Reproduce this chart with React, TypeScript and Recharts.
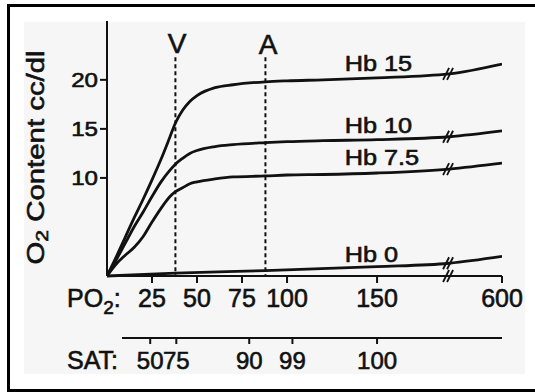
import React from "react";
import { LineChart, Line, XAxis, YAxis, ReferenceLine, ReferenceDot } from "recharts";

const po2 = [0, 5, 10, 15, 20, 25, 30, 35, 38, 42, 46, 50, 60, 70, 88, 100, 120, 150, 190, 600];
// O2 content (cc/dl)
const hb15 = [0, 1.9, 3.9, 5.9, 7.8, 9.8, 11.9, 14.2, 15.6, 16.9, 17.8, 18.4, 19.2, 19.5, 19.8, 19.9, 20.0, 20.2, 20.6, 21.6];
const hb10 = [0, 1.6, 3.3, 5.0, 6.5, 8.1, 9.6, 10.8, 11.4, 12.0, 12.5, 12.8, 13.2, 13.4, 13.6, 13.7, 13.8, 13.9, 14.2, 14.8];
const hb75 = [0, 1.2, 2.1, 2.9, 4.0, 5.5, 6.9, 8.1, 8.6, 9.0, 9.4, 9.6, 9.9, 10.1, 10.2, 10.3, 10.35, 10.5, 10.9, 11.5];
const hb0Po2 = [0, 38, 88, 150, 190, 600];
const hb0 = [0, 0.3, 0.55, 0.95, 1.3, 2.0];

const po2Ticks = [25, 50, 75, 100, 150, 600];
const satLabels = ["50", "75", "90", "99", "100"];
const satAtPo2 = [24, 38.5, 79, 103, 150];
const yTicks = [10, 15, 20];

const venous = 38;
const arterial = 88;
const breakAt = 190; // axis is broken between here and 600

const ink = "#111";
const font = "'Liberation Sans', Arial, sans-serif";
const heavy = { stroke: ink, strokeWidth: 0.6 };

// squeeze everything after the break into a short stretch
const pos = (p: number) => (p <= breakAt ? p : breakAt + ((p - breakAt) * 29.4) / 410);
const maxPos = pos(600);

const toData = (xs: number[], ys: number[]) => xs.map((p, i) => ({ x: pos(p), y: ys[i] }));
const atBreak = (ys: number[]) => ys[po2.indexOf(breakAt)];

const series = [
  { name: "Hb 15", data: toData(po2, hb15), brk: atBreak(hb15), labelY: 20.9 },
  { name: "Hb 10", data: toData(po2, hb10), brk: atBreak(hb10), labelY: 14.6 },
  { name: "Hb 7.5", data: toData(po2, hb75), brk: atBreak(hb75), labelY: 11.3 },
  { name: "Hb 0", data: toData(hb0Po2, hb0), brk: hb0[hb0Po2.indexOf(breakAt)], labelY: 1.43 },
];

const BreakMark = (props: any) => {
  const { cx, cy } = props;
  return (
    <g stroke={ink} strokeWidth={1.8}>
      <line x1={cx - 6} y1={cy + 6} x2={cx} y2={cy - 6} />
      <line x1={cx - 2} y1={cy + 6} x2={cx + 4} y2={cy - 6} />
    </g>
  );
};

const textShape = (txt: string, size: number, sx: number, anchor: string) => (props: any) => (
  <text
    transform={`translate(${props.cx},${props.cy}) scale(${sx},1)`}
    textAnchor={anchor}
    fontSize={size}
    fontFamily={font}
    fill={ink}
    {...heavy}
  >
    {txt}
  </text>
);

const PoTick = (props: any) => {
  const { x, y, payload } = props;
  const i = po2Ticks.map(pos).findIndex((v) => Math.abs(v - payload.value) < 0.01);
  return (
    <text x={x} y={y + 22} textAnchor="middle" fontSize={25} fontFamily={font} fill={ink} {...heavy}>
      {po2Ticks[i]}
    </text>
  );
};

const SatTick = (props: any) => {
  const { x, y, payload } = props;
  const i = satAtPo2.indexOf(payload.value);
  return (
    <text x={x} y={y + 23} textAnchor="middle" fontSize={24} fontFamily={font} fill={ink} {...heavy}>
      {satLabels[i]}
    </text>
  );
};

const YTick = (props: any) => {
  const { x, y, payload } = props;
  return (
    <text
      transform={`translate(${x},${y + 7.5}) scale(1.15,1)`}
      textAnchor="end"
      fontSize={21}
      fontFamily={font}
      fill={ink}
      {...heavy}
    >
      {payload.value}
    </text>
  );
};

export default function App() {
  return (
    <div style={{ position: "absolute", left: 0, top: 0, width: 535, height: 392, overflow: "hidden", background: "#fff" }}>
      <div
        style={{
          position: "absolute",
          left: 7,
          top: 4,
          width: 600,
          height: 388,
          border: "3px solid #000",
          boxSizing: "border-box",
        }}
      />
      <div style={{ position: "absolute", left: 24, top: 22, width: 501, height: 352, background: "#f6f6f6" }} />
      <div style={{ position: "absolute", left: 0, top: 0 }}>
        <LineChart width={535} height={392} margin={{ top: 21, right: 33, bottom: 14, left: 0 }}>
          <XAxis
            xAxisId="po2"
            type="number"
            dataKey="x"
            domain={[0, maxPos]}
            allowDataOverflow
            ticks={po2Ticks.map(pos)}
            interval={0}
            tick={<PoTick />}
            tickSize={7}
            height={62}
            axisLine={{ stroke: ink, strokeWidth: 2 }}
            tickLine={{ stroke: ink, strokeWidth: 2 }}
            label={{
              content: (p: any) => (
                <text x={p.viewBox.x - 40} y={p.viewBox.y + 31} fontSize={25} fontFamily={font} fill={ink} {...heavy}>
                  PO
                  <tspan fontSize={19} dy={7}>2</tspan>
                  <tspan dy={-7}>:</tspan>
                </text>
              ),
            }}
          />
          <XAxis
            xAxisId="sat"
            type="number"
            dataKey="x"
            domain={[maxPos - 380 / (395 / maxPos), maxPos]}
            allowDataOverflow
            padding={{ left: 15, right: 0 }}
            ticks={satAtPo2}
            interval={0}
            tick={<SatTick />}
            tickSize={6}
            height={40}
            axisLine={false}
            tickLine={{ stroke: ink, strokeWidth: 2 }}
            label={{
              content: (p: any) => (
                <g>
                  <line
                    x1={p.viewBox.x + 15}
                    x2={p.viewBox.x + p.viewBox.width}
                    y1={p.viewBox.y}
                    y2={p.viewBox.y}
                    stroke={ink}
                    strokeWidth={2}
                  />
                  <text x={p.viewBox.x - 40} y={p.viewBox.y + 31} fontSize={25} fontFamily={font} fill={ink} {...heavy}>
                    SAT:
                  </text>
                </g>
              ),
            }}
          />
          <YAxis
            type="number"
            domain={[0, 26]}
            ticks={yTicks}
            interval={0}
            tick={<YTick />}
            tickSize={7}
            width={107}
            axisLine={{ stroke: ink, strokeWidth: 2 }}
            tickLine={{ stroke: ink, strokeWidth: 2 }}
            label={{
              content: () => (
                <text
                  transform="translate(44,157.5) rotate(-90) scale(1.25,1)"
                  textAnchor="middle"
                  fontSize={23.5}
                  fontFamily={font}
                  fill={ink}
                  {...heavy}
                >
                  O
                  <tspan fontSize={17} dy={4}>2</tspan>
                  <tspan dy={-4}> Content cc/dl</tspan>
                </text>
              ),
            }}
          />

          <ReferenceLine
            xAxisId="po2"
            segment={[{ x: venous, y: 22.3 }, { x: venous, y: 0 }]}
            stroke={ink}
            strokeWidth={2}
            strokeDasharray="4 3"
          />
          <ReferenceLine
            xAxisId="po2"
            segment={[{ x: arterial, y: 22.3 }, { x: arterial, y: 0 }]}
            stroke={ink}
            strokeWidth={2}
            strokeDasharray="4 3"
          />
          <ReferenceDot xAxisId="po2" x={venous + 1} y={22.7} r={0} shape={textShape("V", 28, 1, "middle")} />
          <ReferenceDot xAxisId="po2" x={arterial + 1.5} y={22.6} r={0} shape={textShape("A", 28, 1, "middle")} />

          {series.map((s) => (
            <Line
              key={s.name}
              xAxisId="po2"
              data={s.data}
              dataKey="y"
              type="monotone"
              dot={false}
              stroke={ink}
              strokeWidth={2.8}
              isAnimationActive={false}
            />
          ))}

          {series.map((s) => (
            <ReferenceDot key={s.name + "b"} xAxisId="po2" x={pos(breakAt)} y={s.brk} r={0} shape={BreakMark} />
          ))}
          <ReferenceDot xAxisId="po2" x={pos(breakAt)} y={0} r={0} shape={BreakMark} />

          {series.map((s) => (
            <ReferenceDot
              key={s.name + "l"}
              xAxisId="po2"
              x={132}
              y={s.labelY}
              r={0}
              shape={textShape(s.name, 22, 1.15, "start")}
            />
          ))}
        </LineChart>
      </div>
    </div>
  );
}
